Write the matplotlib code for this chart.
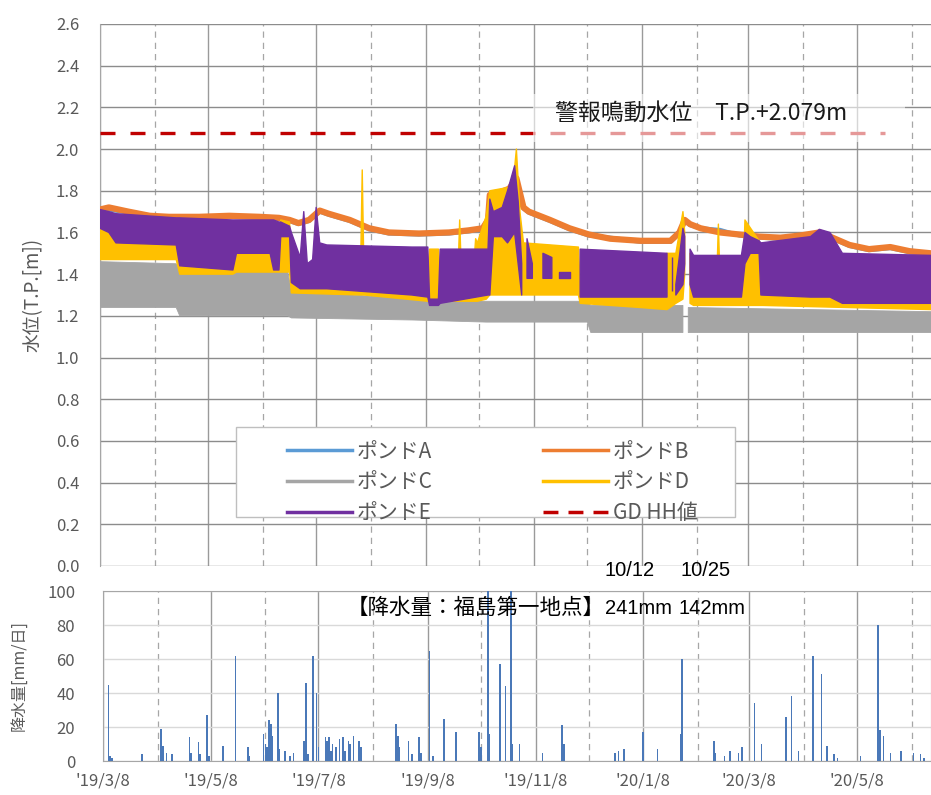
import numpy as np
import pandas as pd
import matplotlib; matplotlib.use("Agg")
import matplotlib.pyplot as plt
import matplotlib.dates as mdates
from matplotlib.lines import Line2D
from matplotlib.patches import Rectangle
from matplotlib.ticker import FuncFormatter, FormatStrFormatter

plt.rcParams['font.family'] = ['Noto Sans CJK JP', 'DejaVu Sans']

# ---- water level [T.P. m] ----
B_dates = ["2019-03-08", "2019-03-13", "2019-03-24", "2019-04-05", "2019-04-16", "2019-05-03",
           "2019-05-20", "2019-06-06", "2019-06-17", "2019-06-23", "2019-06-28", "2019-07-04",
           "2019-07-10", "2019-07-15", "2019-07-27", "2019-08-07", "2019-08-18", "2019-09-04",
           "2019-09-21", "2019-10-02", "2019-10-10", "2019-10-13", "2019-10-14", "2019-10-19",
           "2019-10-25", "2019-10-29", "2019-11-02", "2019-11-05", "2019-11-17", "2019-11-28",
           "2019-12-09", "2019-12-21", "2020-01-07", "2020-01-24", "2020-01-29", "2020-02-01",
           "2020-02-04", "2020-02-10", "2020-02-21", "2020-03-03", "2020-03-14", "2020-03-26",
           "2020-04-06", "2020-04-17", "2020-04-23", "2020-05-04", "2020-05-15", "2020-05-27",
           "2020-06-07", "2020-06-19"]
B_level = [1.71, 1.72, 1.70, 1.68, 1.675, 1.675, 1.68, 1.675, 1.67, 1.66, 1.645, 1.66,
           1.705, 1.69, 1.66, 1.62, 1.60, 1.595, 1.60, 1.61, 1.62, 1.66, 1.78, 1.79,
           1.81, 1.86, 1.72, 1.70, 1.66, 1.62, 1.59, 1.57, 1.56, 1.56, 1.60, 1.66,
           1.64, 1.62, 1.60, 1.59, 1.58, 1.575, 1.585, 1.60, 1.58, 1.54, 1.52, 1.53,
           1.51, 1.50]
A_dates = B_dates
A_level = [1.70, 1.71, 1.695, 1.675, 1.67, 1.67, 1.675, 1.67, 1.665, 1.655, 1.64, 1.655,
           1.70, 1.685, 1.655, 1.615, 1.595, 1.59, 1.595, 1.605, 1.615, 1.655, 1.77, 1.785,
           1.80, 1.85, 1.715, 1.695, 1.655, 1.615, 1.585, 1.575, 1.555, 1.555, 1.595, 1.655,
           1.635, 1.62, 1.612, 1.585, 1.575, 1.57, 1.58, 1.595, 1.575, 1.535, 1.515, 1.525,
           1.505, 1.495]

# pond C, D, E fluctuate quickly: kept as low / high envelopes
C_dates = ["2019-03-08", "2019-04-20", "2019-04-22", "2019-06-22", "2019-06-24", "2019-09-01",
           "2019-10-12", "2019-12-08", "2019-12-10", "2020-01-31", "2020-02-01", "2020-02-02",
           "2020-02-03", "2020-06-19"]
C_lo = [1.24, 1.24, 1.20, 1.20, 1.19, 1.18, 1.17, 1.17, 1.12, 1.12, np.nan, np.nan, 1.12, 1.12]
C_hi = [1.46, 1.45, 1.42, 1.41, 1.32, 1.28, 1.27, 1.27, 1.25, 1.25, np.nan, np.nan, 1.24, 1.22]

D_dates = ["2019-03-08", "2019-03-13", "2019-03-15", "2019-04-20", "2019-04-22", "2019-05-22",
           "2019-05-24", "2019-06-16", "2019-06-18", "2019-06-23", "2019-06-24", "2019-08-02",
           "2019-08-03", "2019-08-04", "2019-09-09", "2019-09-10", "2019-09-15", "2019-09-16",
           "2019-09-26", "2019-09-27", "2019-09-28", "2019-10-05", "2019-10-06", "2019-10-07",
           "2019-10-12", "2019-10-14", "2019-10-27", "2019-10-29", "2019-10-31", "2019-11-02",
           "2019-12-03", "2019-12-04", "2020-01-07", "2020-01-22", "2020-01-27", "2020-01-31",
           "2020-02-01", "2020-02-02", "2020-02-03", "2020-02-04", "2020-02-06", "2020-02-19",
           "2020-02-20", "2020-02-21", "2020-03-05", "2020-03-06", "2020-03-14", "2020-03-16",
           "2020-06-19"]
D_lo = [1.47, 1.47, 1.47, 1.47, 1.40, 1.40, 1.41, 1.41, 1.41, 1.41, 1.31, 1.30,
        1.30, 1.30, 1.27, 1.28, 1.28, 1.27, 1.27, 1.27, 1.27, 1.27, 1.27, 1.27,
        1.28, 1.30, 1.30, 1.30, 1.30, 1.30, 1.30, 1.26, 1.24, 1.23, 1.26, 1.28,
        1.40, np.nan, np.nan, 1.26, 1.25, 1.25, 1.25, 1.25, 1.25, 1.25, 1.25, 1.25,
        1.23]
D_hi = [1.66, 1.66, 1.60, 1.58, 1.50, 1.50, 1.52, 1.52, 1.66, 1.65, 1.40, 1.40,
        1.90, 1.40, 1.40, 1.52, 1.52, 1.40, 1.40, 1.66, 1.40, 1.45, 1.57, 1.55,
        1.68, 1.80, 1.82, 2.00, 1.70, 1.55, 1.53, 1.35, 1.32, 1.50, 1.50, 1.70,
        1.60, np.nan, np.nan, 1.50, 1.35, 1.35, 1.64, 1.35, 1.40, 1.66, 1.56, 1.35,
        1.30]

E_dates = ["2019-03-08", "2019-03-13", "2019-03-17", "2019-04-20", "2019-04-22", "2019-05-22",
           "2019-05-24", "2019-06-12", "2019-06-14", "2019-06-17", "2019-06-18", "2019-06-23",
           "2019-06-24", "2019-06-29", "2019-07-01", "2019-07-03", "2019-07-06", "2019-07-08",
           "2019-07-10", "2019-07-14", "2019-08-31", "2019-09-09", "2019-09-10", "2019-09-15",
           "2019-09-16", "2019-10-13", "2019-10-14", "2019-10-16", "2019-10-21", "2019-10-24",
           "2019-10-28", "2019-10-30", "2019-11-01", "2019-11-02", "2019-11-04", "2019-11-07",
           "2019-11-08", "2019-11-13", "2019-11-18", "2019-11-19", "2019-11-22", "2019-11-28",
           "2019-11-29", "2019-12-04", "2020-01-22", "2020-01-23", "2020-01-25", "2020-01-26",
           "2020-01-27", "2020-01-31", "2020-02-01", "2020-02-02", "2020-02-04", "2020-02-06",
           "2020-03-04", "2020-03-06", "2020-03-09", "2020-03-14", "2020-03-15", "2020-04-12",
           "2020-04-17", "2020-04-23", "2020-04-30", "2020-06-19"]
E_lo = [1.62, 1.60, 1.55, 1.54, 1.44, 1.42, 1.50, 1.50, 1.42, 1.42, 1.58, 1.58,
        1.36, 1.33, 1.33, 1.33, 1.33, 1.33, 1.33, 1.33, 1.30, 1.29, 1.25, 1.25,
        1.26, 1.30, 1.30, 1.58, 1.58, 1.55, 1.60, 1.45, 1.30, np.nan, 1.38, 1.38,
        np.nan, 1.38, 1.38, np.nan, 1.38, 1.38, np.nan, 1.29, 1.29, np.nan, 1.32, np.nan,
        1.30, 1.35, 1.45, np.nan, 1.35, 1.29, 1.29, 1.45, 1.50, 1.50, 1.30, 1.29,
        1.29, 1.29, 1.26, 1.26]
E_hi = [1.71, 1.70, 1.69, 1.67, 1.67, 1.66, 1.66, 1.66, 1.66, 1.65, 1.65, 1.63,
        1.60, 1.48, 1.70, 1.45, 1.47, 1.72, 1.55, 1.54, 1.53, 1.53, 1.28, 1.28,
        1.52, 1.52, 1.76, 1.70, 1.72, 1.80, 1.92, 1.75, 1.45, np.nan, 1.57, 1.45,
        np.nan, 1.50, 1.48, np.nan, 1.41, 1.41, np.nan, 1.52, 1.50, np.nan, 1.48, np.nan,
        1.35, 1.62, 1.58, np.nan, 1.52, 1.49, 1.49, 1.60, 1.58, 1.56, 1.55, 1.58,
        1.615, 1.60, 1.50, 1.49]

GD_dates = ["2019-03-08", "2020-05-24"]
GD_level = [2.079, 2.079]

# ---- daily rainfall [mm/day] ----
rain_dates = ["2019-03-11", "2019-03-12", "2019-03-13", "2019-03-30", "2019-04-10", "2019-04-11",
              "2019-04-13", "2019-04-16", "2019-04-26", "2019-04-27", "2019-05-01", "2019-05-02",
              "2019-05-06", "2019-05-07", "2019-05-15", "2019-05-22", "2019-05-29", "2019-05-30",
              "2019-06-07", "2019-06-08", "2019-06-09", "2019-06-10", "2019-06-11", "2019-06-12",
              "2019-06-15", "2019-06-16", "2019-06-19", "2019-06-22", "2019-06-24", "2019-06-30",
              "2019-07-01", "2019-07-02", "2019-07-05", "2019-07-07", "2019-07-08", "2019-07-12",
              "2019-07-13", "2019-07-14", "2019-07-15", "2019-07-16", "2019-07-18", "2019-07-20",
              "2019-07-22", "2019-07-23", "2019-07-25", "2019-07-26", "2019-07-28", "2019-07-31",
              "2019-08-01", "2019-08-21", "2019-08-22", "2019-08-23", "2019-08-28", "2019-08-30",
              "2019-09-03", "2019-09-04", "2019-09-09", "2019-09-11", "2019-09-17", "2019-09-24",
              "2019-10-07", "2019-10-08", "2019-10-12", "2019-10-13", "2019-10-19", "2019-10-22",
              "2019-10-25", "2019-10-26", "2019-10-30", "2019-11-12", "2019-11-23", "2019-11-24",
              "2019-12-23", "2019-12-25", "2019-12-28", "2020-01-08", "2020-01-16", "2020-01-29",
              "2020-01-30", "2020-02-17", "2020-02-18", "2020-02-23", "2020-02-26", "2020-03-02",
              "2020-03-04", "2020-03-11", "2020-03-15", "2020-03-29", "2020-04-01", "2020-04-05",
              "2020-04-13", "2020-04-18", "2020-04-21", "2020-04-25", "2020-04-27", "2020-05-10",
              "2020-05-20", "2020-05-21", "2020-05-23", "2020-05-27", "2020-06-02", "2020-06-09",
              "2020-06-13", "2020-06-15"]
rain_mm = [45, 3, 2, 4, 19, 9,
           5, 4, 14, 5, 11, 4,
           27, 3, 9, 62, 8, 3,
           16, 10, 8, 24, 22, 15,
           40, 7, 6, 3, 5, 12,
           46, 4, 62, 40, 8, 14,
           12, 14, 6, 10, 8, 13,
           14, 6, 12, 10, 15, 12,
           8, 22, 15, 8, 12, 4,
           14, 5, 65, 3, 25, 17,
           17, 8, 241, 16, 57, 44,
           142, 10, 10, 5, 21, 10,
           5, 6, 7, 17, 7, 16,
           60, 12, 5, 3, 6, 5,
           8, 34, 10, 26, 38, 6,
           62, 51, 9, 4, 2, 3,
           80, 18, 15, 5, 6, 5,
           4, 2]

labels = ["ポンドA", "ポンドB", "ポンドC", "ポンドD", "ポンドE", "GD HH値"]
colors = ["#5B9BD5", "#ED7D31", "#A5A5A5", "#FFC000", "#7030A0", "#C00000"]

x_start, x_end = pd.Timestamp("2019-03-08"), pd.Timestamp("2020-06-19")
dt = pd.to_datetime
TICK_C = "#595959"

fig = plt.figure(figsize=(9.31, 7.95), dpi=100)
W, H = 931, 795
ax1 = fig.add_axes([100 / W, 1 - 566 / H, 831 / W, 542 / H])
ax2 = fig.add_axes([103 / W, 1 - 761 / H, 828 / W, 170 / H])

# top panel
ax1.plot(dt(A_dates), A_level, color=colors[0], lw=3, zorder=2)
ax1.plot(dt(B_dates), B_level, color=colors[1], lw=4.5, zorder=3)
ax1.fill_between(dt(C_dates), C_lo, C_hi, color=colors[2], lw=0.6, zorder=4)
ax1.fill_between(dt(D_dates), D_lo, D_hi, color=colors[3], lw=1.0, zorder=5)
ax1.fill_between(dt(E_dates), E_lo, E_hi, color=colors[4], lw=1.0, zorder=6)
ax1.plot(dt(GD_dates), GD_level, color=colors[5], lw=2.4, ls=(0, (4.5, 4.5)), zorder=7)

ax1.set_xlim(x_start, x_end)
ax1.set_ylim(0, 2.6)
ax1.set_yticks(np.arange(0, 2.61, 0.2))
ax1.yaxis.set_major_formatter(FormatStrFormatter("%.1f"))
for ax in (ax1, ax2):
    ax.xaxis.set_major_locator(mdates.MonthLocator(bymonth=(1, 3, 5, 7, 9, 11), bymonthday=8))
    ax.xaxis.set_minor_locator(mdates.MonthLocator(bymonth=(2, 4, 6, 8, 10, 12), bymonthday=8))
    ax.set_axisbelow(True)
    ax.grid(axis="x", which="major", color="#9a9a9a", lw=1.0)
    ax.grid(axis="x", which="minor", color="#a6a6a6", lw=0.9, ls=(0, (5, 4)))
    ax.tick_params(which="both", length=0, colors=TICK_C, labelsize=12)

ax1.grid(axis="y", color="#8c8c8c", lw=1.0)
ax1.tick_params(axis="x", which="both", labelbottom=False)
ax1.tick_params(axis="y", pad=15)
for s in ("top", "right", "bottom"):
    ax1.spines[s].set_visible(False)
ax1.spines["left"].set_color("#a6a6a6")
ax1.set_ylabel("水位(T.P.[m])", fontsize=13.5, color=TICK_C, labelpad=9)

handles = [Line2D([], [], color=c, lw=2.5) for c in colors[:5]]
handles.append(Line2D([], [], color=colors[5], lw=2.5, ls=(0, (4.3, 2.9))))
order = [0, 2, 4, 1, 3, 5]
leg = ax1.legend([handles[i] for i in order], [labels[i] for i in order], ncol=2,
                 loc="upper left", bbox_to_anchor=(0.205, 0.262), frameon=False,
                 fontsize=15, handlelength=3.1, handletextpad=0.25,
                 columnspacing=5.3, labelspacing=0.42, borderpad=0.3)
for t in leg.get_texts():
    t.set_color(TICK_C)
ax1.add_patch(Rectangle((0.164, 0.090), 0.60, 0.167, transform=ax1.transAxes,
                        facecolor="white", edgecolor="#bfbfbf", lw=1.0, zorder=8))
leg.set_zorder(9)

# semi-transparent label box over the alarm line
ax1.add_patch(Rectangle((533 / W, 1 - 142 / H), 372 / W, 48 / H, transform=fig.transFigure,
                        facecolor="white", alpha=0.6, edgecolor="none", zorder=9,
                        clip_on=False))
fig.text(555 / W, 1 - 113 / H, "警報鳴動水位　T.P.+2.079m", ha="left", va="center",
         fontsize=16.5, color="#1a1a1a", zorder=10)

# bottom panel
ax2.bar(dt(rain_dates), rain_mm, width=0.9, color="#4a78b8", zorder=3)
ax2.set_xlim(x_start, x_end)
ax2.set_ylim(0, 100)
ax2.set_yticks(np.arange(0, 101, 20))
ax2.grid(axis="y", color="#d9d9d9", lw=1.0)
ax2.tick_params(axis="y", pad=20)
ax2.tick_params(axis="x", pad=8)
ax2.xaxis.set_major_formatter(FuncFormatter(
    lambda v, _: "'{:%y}/{}/{}".format(mdates.num2date(v), mdates.num2date(v).month,
                                       mdates.num2date(v).day)))
for s in ax2.spines.values():
    s.set_color("#a6a6a6")
ax2.set_ylabel("降水量[mm/日]", fontsize=11.5, color=TICK_C, labelpad=14)

jp_num = ["Liberation Sans", "Noto Sans CJK JP"]
fs_note = 14.5
fig.text(605 / W, 1 - 608 / H, "【降水量：福島第一地点】", ha="right", va="center",
         fontsize=15.5, family=jp_num)
fig.text(605 / W, 1 - 608 / H, "241mm", ha="left", va="center", fontsize=fs_note, family=jp_num)
fig.text(678 / W, 1 - 608 / H, "142mm", ha="left", va="center", fontsize=fs_note, family=jp_num)
fig.text(605 / W, 1 - 571 / H, "10/12", ha="left", va="center", fontsize=fs_note, family=jp_num)
fig.text(680 / W, 1 - 571 / H, "10/25", ha="left", va="center", fontsize=fs_note, family=jp_num)

fig.savefig("out.png", dpi=100)
